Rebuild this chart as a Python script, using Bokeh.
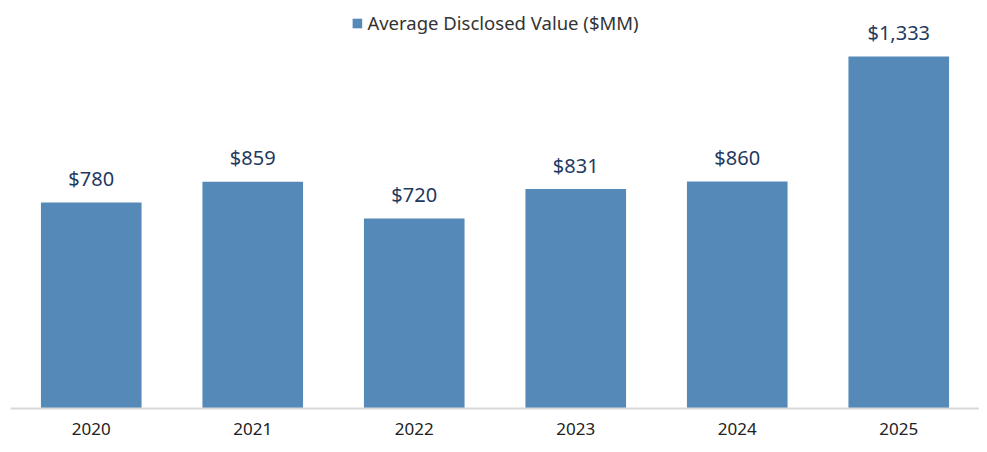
from bokeh.plotting import figure
from bokeh.models import ColumnDataSource, FactorRange, Range1d, Legend, LegendItem
from bokeh.core.properties import value
from bokeh.embed import file_html
from bokeh.resources import INLINE

years = ["2020", "2021", "2022", "2023", "2024", "2025"]
values = [780, 859, 720, 831, 860, 1333]
labels = ["$780", "$859", "$720", "$831", "$860", "$1,333"]
series_name = "Average Disclosed Value ($MM)"

FONT = "Noto Sans"
BAR = "#5589b8"

src = ColumnDataSource(dict(x=years, top=values, label=labels))

p = figure(
    x_range=FactorRange(factors=years, start=0, end=5.916),
    y_range=Range1d(0, 1515),
    width=979, height=444,
    output_backend="svg", toolbar_location=None,
    min_border_left=10, min_border_right=0, min_border_top=8, min_border_bottom=36,
    outline_line_color=None,
)

r = p.vbar(x="x", top="top", width=0.623, source=src, fill_color=BAR, line_color=None)

p.text(x="x", y="top", text="label", source=src,
       text_align="center", text_baseline="alphabetic", y_offset=-24,
       text_font=value(FONT), text_font_size="20px", text_color="#1f3a5f")

p.yaxis.visible = False
p.xgrid.visible = False
p.ygrid.visible = False
p.xaxis.axis_line_color = "#d9d9d9"
p.xaxis.axis_line_width = 2
p.xaxis.major_tick_line_color = None
p.xaxis.minor_tick_line_color = None
p.xaxis.major_label_text_font = FONT
p.xaxis.major_label_text_font_size = "17px"
p.xaxis.major_label_text_color = "#222222"
p.xaxis.major_label_standoff = 8

legend = Legend(items=[LegendItem(label=series_name, renderers=[r])],
                location="top_center", orientation="horizontal",
                label_text_font=FONT, label_text_font_size="18.5px",
                label_text_color="#333333",
                glyph_width=12, glyph_height=12, label_standoff=5,
                border_line_color=None, background_fill_alpha=0,
                padding=2, margin=2)
p.add_layout(legend)

open("out.html", "w").write(file_html(p, INLINE))
